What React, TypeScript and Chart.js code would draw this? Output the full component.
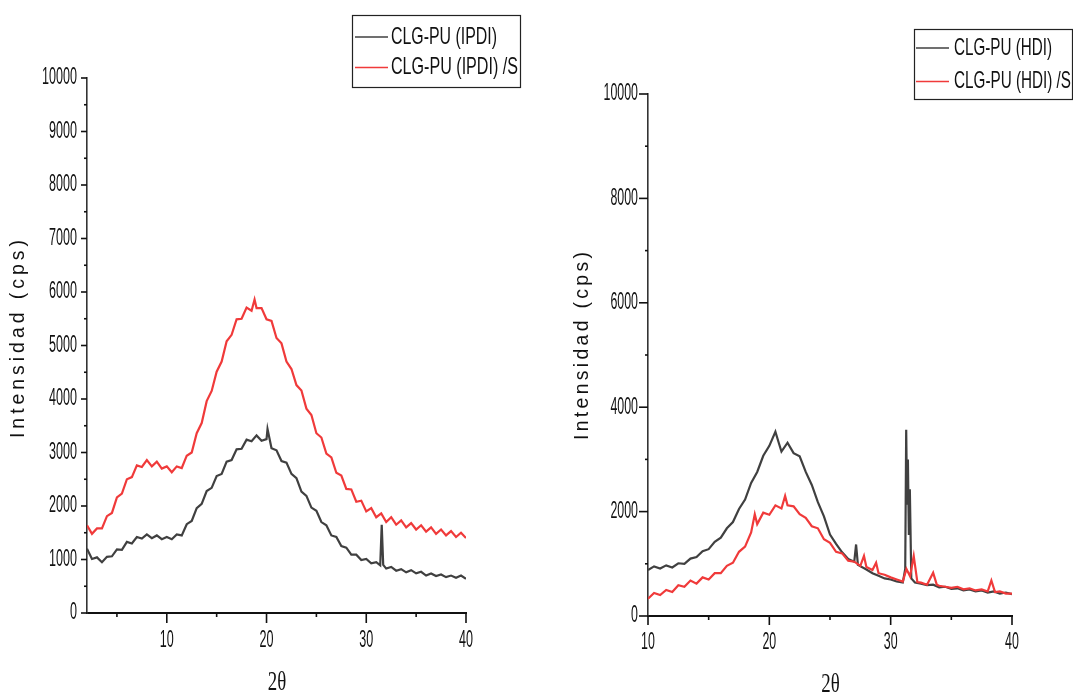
import React, { useEffect, useRef } from 'react';
import { Chart, registerables } from 'chart.js';

Chart.register(...registerables);

// ---------- Left panel data (IPDI) ----------
const leftBlackX = [2,2.5,3,3.5,4,4.5,5,5.5,6,6.5,7,7.5,8,8.5,9,9.5,10,10.5,11,11.5,12,12.5,13,13.5,14,14.5,15,15.5,16,16.5,17,17.5,18,18.5,19,19.5,20,20.1,20.5,21,21.5,22,22.5,23,23.5,24,24.5,25,25.5,26,26.5,27,27.5,28,28.5,29,29.5,30,30.5,31,31.4,31.55,31.7,32,32.5,33,33.5,34,34.5,35,35.5,36,36.5,37,37.5,38,38.5,39,39.5,40];
const leftBlackY = [1200,1010,1040,950,1050,1060,1190,1180,1330,1300,1420,1390,1470,1400,1450,1380,1420,1380,1470,1450,1660,1720,1960,2040,2280,2340,2560,2600,2830,2860,3060,3070,3240,3210,3320,3220,3250,3440,3080,3040,2840,2810,2600,2520,2270,2190,1970,1910,1700,1640,1450,1420,1250,1220,1090,1090,990,1010,930,950,890,1650,900,830,860,790,820,760,800,740,770,700,740,690,720,670,700,660,700,640];

const leftRedX = [2,2.5,3,3.5,4,4.5,5,5.5,6,6.5,7,7.5,8,8.5,9,9.5,10,10.5,11,11.5,12,12.5,13,13.5,14,14.5,15,15.5,16,16.5,17,17.5,18,18.5,18.8,19,19.5,20,20.5,21,21.5,22,22.5,23,23.5,24,24.5,25,25.5,26,26.5,27,27.5,28,28.5,29,29.5,30,30.5,31,31.5,32,32.5,33,33.5,34,34.5,35,35.5,36,36.5,37,37.5,38,38.5,39,39.5,40];
const leftRedY = [1640,1480,1580,1580,1810,1870,2160,2230,2500,2540,2760,2730,2860,2740,2830,2700,2740,2630,2740,2710,2940,3000,3360,3550,3960,4150,4510,4700,5080,5200,5490,5500,5710,5650,5860,5700,5700,5490,5460,5140,5040,4700,4560,4260,4160,3820,3700,3360,3280,2980,2910,2620,2570,2320,2310,2080,2100,1900,1960,1790,1860,1700,1790,1650,1730,1600,1680,1560,1640,1520,1600,1480,1560,1450,1530,1420,1500,1400];

// ---------- Right panel data (HDI) ----------
const rightBlackX = [10,10.5,11,11.5,12,12.5,13,13.5,14,14.5,15,15.5,16,16.5,17,17.5,18,18.5,19,19.5,20,20.5,20.8,21,21.5,22,22.5,23,23.5,24,24.5,25,25.5,26,26.5,27,27.15,27.3,28,28.5,29,29.5,30,30.5,31,31.2,31.28,31.35,31.42,31.5,31.58,31.7,32,32.5,33,33.5,34,34.5,35,35.5,36,36.5,37,37.5,38,38.5,39,39.5,40];
const rightBlackY = [880,950,910,970,930,1010,1000,1100,1130,1240,1280,1420,1500,1680,1800,2050,2230,2550,2760,3070,3260,3530,3300,3150,3320,3120,3060,2760,2510,2180,1910,1560,1380,1220,1090,1040,1370,980,890,820,770,720,700,660,640,900,3570,2150,3000,1550,2430,720,640,620,590,600,550,560,520,530,490,510,470,490,450,470,430,450,420];

const rightRedX = [10,10.5,11,11.5,12,12.5,13,13.5,14,14.5,15,15.5,16,16.5,17,17.5,18,18.5,18.8,19,19.5,20,20.5,21,21.3,21.5,22,22.5,23,23.5,24,24.5,25,25.5,26,26.5,27,27.5,27.8,28,28.5,28.8,29,29.5,30,30.5,31,31.3,31.6,31.9,32.2,32.5,33,33.5,33.8,34,34.5,35,35.5,36,36.5,37,37.5,38,38.3,38.6,39,39.5,40];
const rightRedY = [330,440,400,500,460,590,560,680,620,740,700,820,820,960,1020,1230,1330,1600,1950,1760,1980,1940,2120,2060,2300,2120,2100,1950,1880,1720,1680,1470,1400,1230,1200,1060,1040,960,1150,940,880,1020,820,790,740,700,660,900,760,1150,650,640,600,830,600,580,560,540,560,510,530,490,510,470,680,460,470,430,430];

// ---------- Ticks ----------
const leftYTicks = [0,1000,2000,3000,4000,5000,6000,7000,8000,9000,10000];
const leftYMinor = [500,1500,2500,3500,4500,5500,6500,7500,8500,9500];
const leftXTicks = [10,20,30,40];
const leftXMinor = [5,15,25,35];
const rightYTicks = [0,2000,4000,6000,8000,10000];
const rightYMinor = [1000,3000,5000,7000,9000];
const rightXTicks = [10,20,30,40];
const rightXMinor = [15,25,35];

const leftLegend = ['CLG-PU (IPDI)', 'CLG-PU (IPDI) /S'];
const rightLegend = ['CLG-PU (HDI)', 'CLG-PU (HDI) /S'];
const yTitle = 'Intensidad (cps)';
const xTitle = '2θ';

const SANS = "'Liberation Sans', Arial, sans-serif";
const SERIF = "'Liberation Serif', 'Times New Roman', serif";
const BLACK_LINE = '#404040';
const RED_LINE = '#f03a3a';

function textScaled(ctx: CanvasRenderingContext2D, text: string, x: number, y: number, size: number, family: string, sx: number, align: CanvasTextAlign) {
  ctx.save();
  ctx.font = `${size}px ${family}`;
  ctx.translate(x, y);
  ctx.scale(sx, 1);
  ctx.textAlign = align;
  ctx.textBaseline = 'middle';
  ctx.fillStyle = '#111';
  ctx.fillText(text, 0, 0);
  ctx.restore();
}

function textWidthFit(ctx: CanvasRenderingContext2D, text: string, x: number, y: number, size: number, family: string, width: number, align: CanvasTextAlign) {
  ctx.save();
  ctx.font = `${size}px ${family}`;
  const w = ctx.measureText(text).width || 1;
  ctx.restore();
  textScaled(ctx, text, x, y, size, family, width / w, align);
}

function spacedVertical(ctx: CanvasRenderingContext2D, text: string, cx: number, cy: number, size: number, total: number) {
  ctx.save();
  ctx.font = `${size}px ${SANS}`;
  const chars = Array.from(text);
  const widths = chars.map((c) => ctx.measureText(c).width);
  const natural = widths.reduce((a, b) => a + b, 0);
  const gap = (total - natural) / (chars.length - 1);
  ctx.translate(cx, cy);
  ctx.rotate(-Math.PI / 2);
  ctx.textAlign = 'left';
  ctx.textBaseline = 'middle';
  ctx.fillStyle = '#111';
  let x = -total / 2;
  chars.forEach((c, i) => {
    ctx.fillText(c, x, 0);
    x += widths[i] + gap;
  });
  ctx.restore();
}

type Cfg = {
  canvasLeft: number; w: number; h: number;
  leftW: number; top: number; rightPad: number; bottomH: number;
  xMin: number; xMax: number;
  blackX: number[]; blackY: number[]; redX: number[]; redY: number[];
  yTicks: number[]; yMinor: number[]; xTicks: number[]; xMinor: number[];
  yMajorLen: number; yMinorLen: number; xMajorLen: number; xMinorLen: number;
  yLabelRight: number; xLabelY: number; charW: number;
  yTitleX: number; yTitleY: number; yTitleLen: number;
  xTitleX: number; xTitleY: number;
  legend: string[]; legendBox: number[]; legendLineX: number[]; legendYs: number[]; legendTextX: number; legendW: number[];
};

const leftCfg: Cfg = {
  canvasLeft: 0, w: 540, h: 696,
  leftW: 87, top: 78, rightPad: 74, bottomH: 83,
  xMin: 2, xMax: 40,
  blackX: leftBlackX, blackY: leftBlackY, redX: leftRedX, redY: leftRedY,
  yTicks: leftYTicks, yMinor: leftYMinor, xTicks: leftXTicks, xMinor: leftXMinor,
  yMajorLen: 6, yMinorLen: 3, xMajorLen: 10, xMinorLen: 4,
  yLabelRight: 77, xLabelY: 640.5, charW: 7.0,
  yTitleX: 19, yTitleY: 339, yTitleLen: 198,
  xTitleX: 277, xTitleY: 683,
  legend: leftLegend, legendBox: [352.5, 15.5, 168, 72], legendLineX: [355, 388], legendYs: [37, 67.5], legendTextX: 391, legendW: [106, 127],
};

const rightCfg: Cfg = {
  canvasLeft: 540, w: 533, h: 696,
  leftW: 108, top: 94, rightPad: 61, bottomH: 80,
  xMin: 10, xMax: 40,
  blackX: rightBlackX, blackY: rightBlackY, redX: rightRedX, redY: rightRedY,
  yTicks: rightYTicks, yMinor: rightYMinor, xTicks: rightXTicks, xMinor: rightXMinor,
  yMajorLen: 9, yMinorLen: 3, xMajorLen: 9, xMinorLen: 4,
  yLabelRight: 98, xLabelY: 642.5, charW: 6.9,
  yTitleX: 43, yTitleY: 346, yTitleLen: 188,
  xTitleX: 290.5, xTitleY: 685,
  legend: rightLegend, legendBox: [374.5, 29.5, 158, 70], legendLineX: [376, 409], legendYs: [48, 81.5], legendTextX: 414, legendW: [98, 117],
};

function makeDecor(cfg: Cfg) {
  return {
    id: 'decor',
    afterDraw(chart: any) {
      const ctx: CanvasRenderingContext2D = chart.ctx;
      const xs = chart.scales.x;
      const ys = chart.scales.y;
      const area = chart.chartArea;
      ctx.save();
      ctx.strokeStyle = '#111';
      ctx.lineWidth = 1.6;
      const seg = (x1: number, y1: number, x2: number, y2: number) => {
        ctx.beginPath();
        ctx.moveTo(x1, y1);
        ctx.lineTo(x2, y2);
        ctx.stroke();
      };
      cfg.yTicks.forEach((v) => {
        const p = ys.getPixelForValue(v);
        seg(area.left - cfg.yMajorLen, p, area.left, p);
        textWidthFit(ctx, String(v), cfg.yLabelRight, p, 23, SANS, String(v).length * cfg.charW, 'right');
      });
      cfg.yMinor.forEach((v) => {
        const p = ys.getPixelForValue(v);
        seg(area.left - cfg.yMinorLen, p, area.left, p);
      });
      cfg.xTicks.forEach((v) => {
        const p = xs.getPixelForValue(v);
        seg(p, area.bottom, p, area.bottom + cfg.xMajorLen);
        textWidthFit(ctx, String(v), p, cfg.xLabelY, 23, SANS, String(v).length * cfg.charW, 'center');
      });
      cfg.xMinor.forEach((v) => {
        const p = xs.getPixelForValue(v);
        seg(p, area.bottom, p, area.bottom + cfg.xMinorLen);
      });
      // axis titles
      spacedVertical(ctx, yTitle, cfg.yTitleX, cfg.yTitleY, 19.5, cfg.yTitleLen);
      textWidthFit(ctx, xTitle, cfg.xTitleX, cfg.xTitleY, 28, SERIF, 18.5, 'center');
      // legend
      const [bx, by, bw, bh] = cfg.legendBox;
      ctx.lineWidth = 1.2;
      ctx.strokeStyle = '#222';
      ctx.strokeRect(bx, by, bw, bh);
      const cols = [BLACK_LINE, RED_LINE];
      cfg.legend.forEach((t, i) => {
        ctx.strokeStyle = cols[i];
        ctx.lineWidth = 1.3;
        seg(cfg.legendLineX[0], cfg.legendYs[i], cfg.legendLineX[1], cfg.legendYs[i]);
        textWidthFit(ctx, t, cfg.legendTextX, cfg.legendYs[i], 24, SANS, cfg.legendW[i], 'left');
      });
      ctx.restore();
    },
  };
}

function XrdChart({ cfg }: { cfg: Cfg }) {
  const ref = useRef<HTMLCanvasElement>(null);
  useEffect(() => {
    if (!ref.current) return;
    const chart = new Chart(ref.current, {
      type: 'line',
      data: {
        datasets: [
          {
            label: cfg.legend[1],
            data: cfg.redX.map((x, i) => ({ x, y: cfg.redY[i] })),
            borderColor: RED_LINE,
            borderWidth: 2.2,
            pointRadius: 0,
            tension: 0,
            fill: false,
            order: 0,
          },
          {
            label: cfg.legend[0],
            data: cfg.blackX.map((x, i) => ({ x, y: cfg.blackY[i] })),
            borderColor: BLACK_LINE,
            borderWidth: 2.2,
            pointRadius: 0,
            tension: 0,
            fill: false,
            order: 1,
          },
        ],
      },
      options: {
        animation: false,
        responsive: false,
        maintainAspectRatio: false,
        events: [],
        layout: { padding: { left: 0, top: cfg.top, right: cfg.rightPad, bottom: 0 } },
        plugins: { legend: { display: false }, tooltip: { enabled: false }, title: { display: false } },
        scales: {
          x: {
            type: 'linear',
            min: cfg.xMin,
            max: cfg.xMax,
            grid: { display: false, drawTicks: false },
            ticks: { display: false },
            border: { display: true, color: '#111', width: 2 },
            afterFit: (s: any) => { s.height = cfg.bottomH; },
          },
          y: {
            type: 'linear',
            min: 0,
            max: 10000,
            grid: { display: false, drawTicks: false },
            ticks: { display: false },
            border: { display: true, color: '#333', width: 1.6 },
            afterFit: (s: any) => { s.width = cfg.leftW; },
          },
        },
      } as any,
      plugins: [makeDecor(cfg)],
    });
    return () => chart.destroy();
  }, [cfg]);
  return (
    <canvas
      ref={ref}
      width={cfg.w}
      height={cfg.h}
      style={{ position: 'absolute', left: cfg.canvasLeft, top: 0, width: cfg.w, height: cfg.h }}
    />
  );
}

export default function App() {
  return (
    <div style={{ position: 'fixed', left: 0, top: 0, width: 1073, height: 696, background: '#fff', overflow: 'hidden' }}>
      <XrdChart cfg={leftCfg} />
      <XrdChart cfg={rightCfg} />
    </div>
  );
}
